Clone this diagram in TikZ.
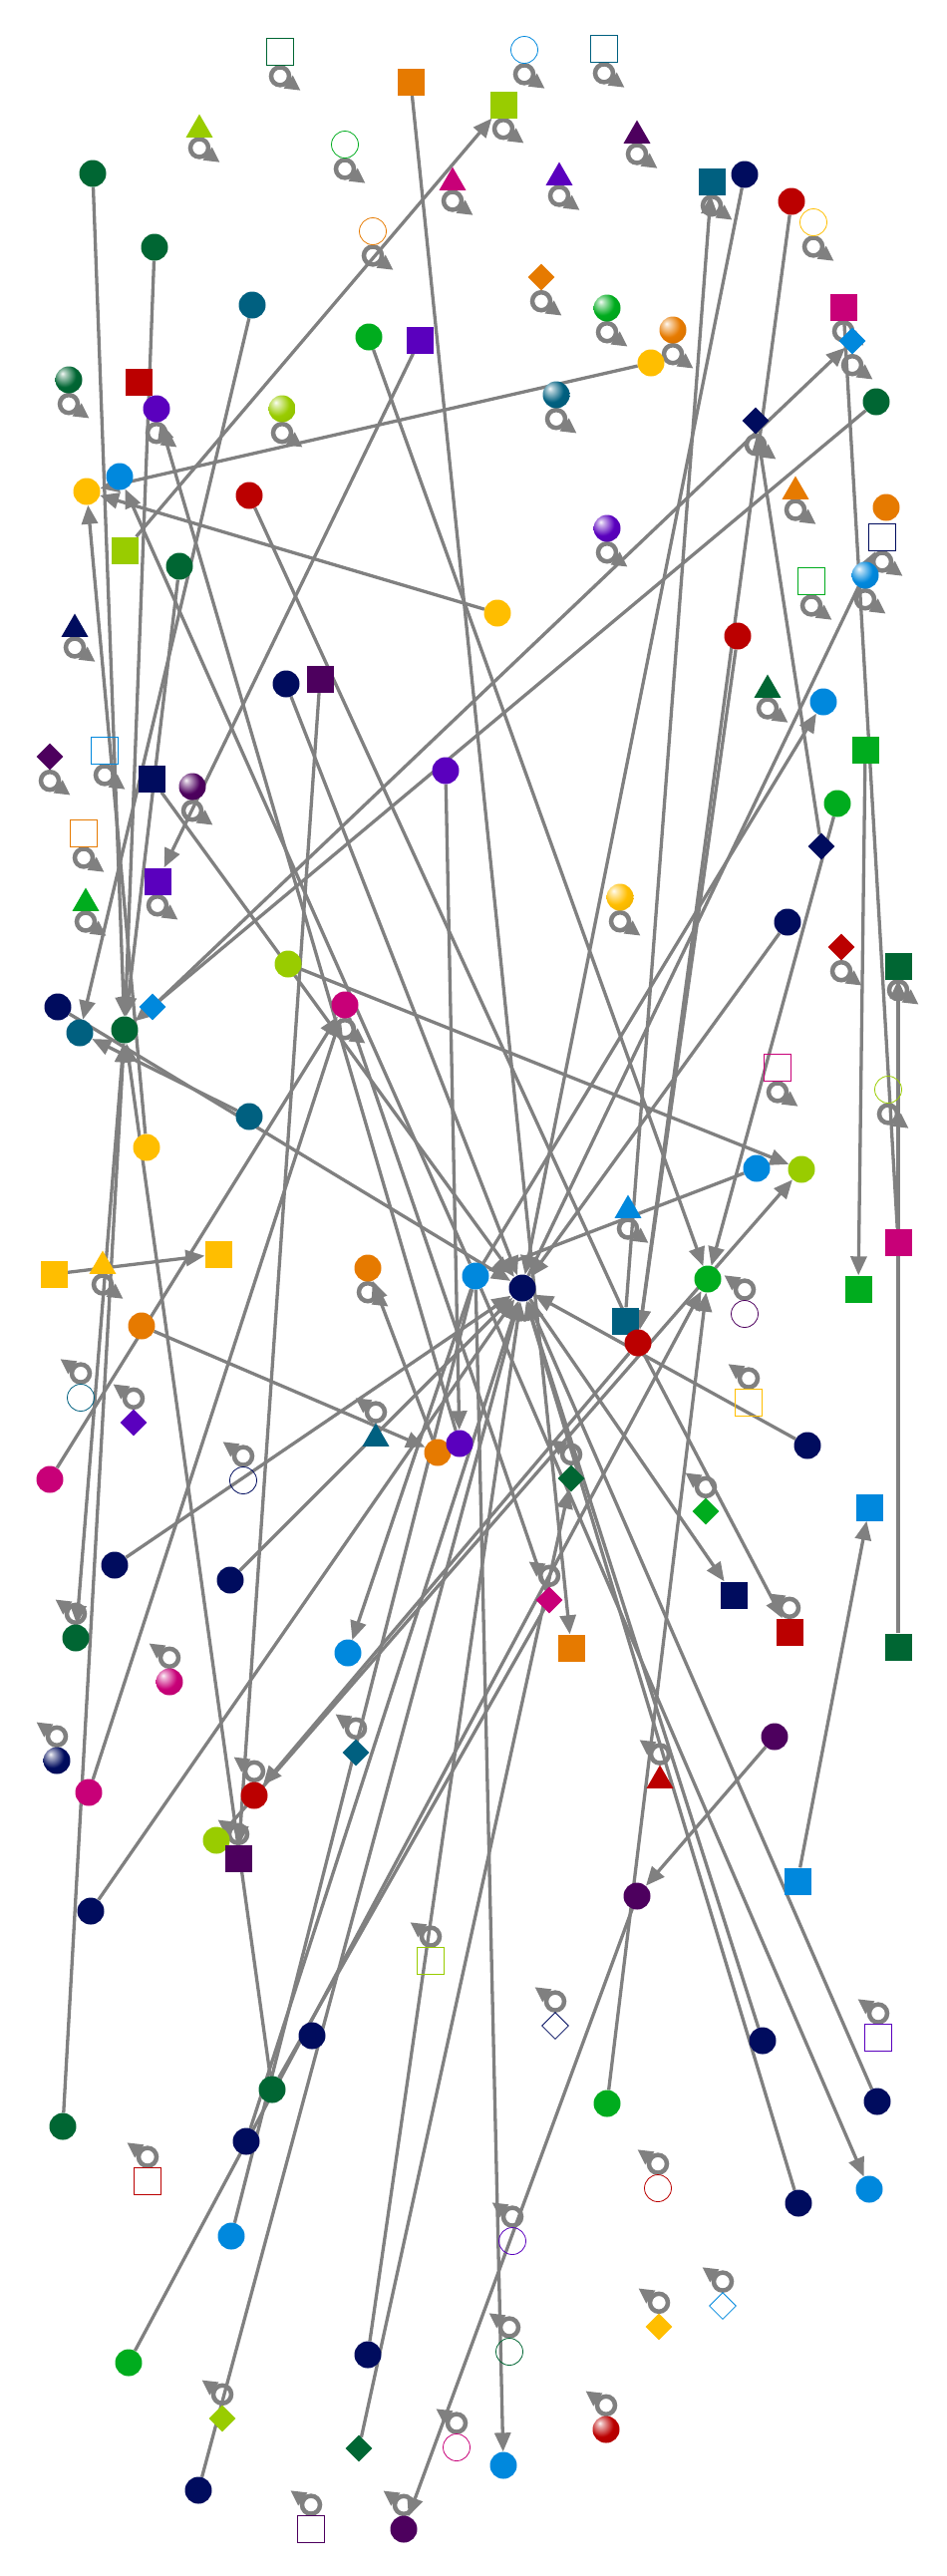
\documentclass[tikz,border=0pt]{standalone}
\usetikzlibrary{shapes.geometric, arrows.meta, backgrounds}

\definecolor{cnavy}{RGB}{0,12,94}
\definecolor{cdkgreen}{RGB}{0,102,51}
\definecolor{cteal}{RGB}{0,96,128}
\definecolor{cblue}{RGB}{0,136,221}
\definecolor{cgreen}{RGB}{0,172,30}
\definecolor{clime}{RGB}{153,204,0}
\definecolor{cyellow}{RGB}{255,190,0}
\definecolor{corange}{RGB}{230,122,0}
\definecolor{cred}{RGB}{187,0,0}
\definecolor{cmagenta}{RGB}{200,0,120}
\definecolor{cpurple}{RGB}{90,0,190}
\definecolor{cdkpurple}{RGB}{77,0,94}
\definecolor{cline}{RGB}{128,128,128}

% lighter ball shading than the built in one
\makeatletter
\pgfdeclareradialshading[tikz@ball]{gloss}{\pgfqpoint{-12bp}{12bp}}{%
  color(0bp)=(tikz@ball!4!white); color(5bp)=(tikz@ball!30!white);
  color(22bp)=(tikz@ball); color(50bp)=(tikz@ball!88!black);
  color(75bp)=(tikz@ball!75!black)}
\makeatother

% self loops, under or over the node
\newcommand{\loopbelow}[1]{%
  \draw[loopring] ([yshift=-10.5pt]#1.south) circle[radius=9pt];
  \draw[looptip] ([yshift=-10.5pt]#1.south) ++(-35:9pt) -- ++(-35:16pt);}
\newcommand{\loopabove}[1]{%
  \draw[loopring] ([yshift=10.5pt]#1.north) circle[radius=9pt];
  \draw[looptip] ([yshift=10.5pt]#1.north) ++(145:9pt) -- ++(145:16pt);}

\begin{document}
\begin{tikzpicture}[
    x=1pt, y=-1pt,
    dot/.style={circle, fill=#1, minimum size=27pt, inner sep=0pt},
    box/.style={rectangle, fill=#1, minimum size=27pt, inner sep=0pt},
    tri/.style={regular polygon, regular polygon sides=3, fill=#1, minimum size=31pt, inner sep=0pt},
    dia/.style={diamond, fill=#1, minimum size=27pt, inner sep=0pt},
    bball/.style={circle, shade, ball color=#1, shading=gloss, minimum size=27pt, inner sep=0pt},
    odot/.style={circle, draw=#1, line width=0.8pt, minimum size=27pt, inner sep=0pt},
    obox/.style={rectangle, draw=#1, line width=0.8pt, minimum size=27pt, inner sep=0pt},
    odia/.style={diamond, draw=#1, line width=0.8pt, minimum size=27pt, inner sep=0pt},
    link/.style={draw=cline, line width=3.3pt},
    arr/.style={link, -{Triangle[length=19pt, width=16pt]}},
    loopring/.style={draw=cline, line width=4.5pt},
    looptip/.style={draw=cline, line width=3.3pt, -{Triangle[length=15pt, width=15pt]}}
]
    \useasboundingbox (0,0) rectangle (950,2584);

    % Navy
    \node[dot=cnavy] (hub) at (524,1292) {};
    \node[dot=cnavy] (nvA) at (747,175) {};
    \node[dia=cnavy] (nvDia) at (758,422) {};
    \node[tri=cnavy] (nvTri) at (75,631) {};
    \node[dot=cnavy] (nvB) at (287,686) {};
    \node[obox=cnavy] (nvObox) at (885,539) {};
    \node[box=cnavy] (nvSq) at (152,781) {};
    \node[dot=cnavy] (nvC) at (58,1010) {};
    \node[dia=cnavy] (nvDib) at (824,849) {};
    \node[dot=cnavy] (nvD) at (790,925) {};
    \node[odot=cnavy] (nvOdot) at (244,1485) {};
    \node[dot=cnavy] (nvE) at (810,1450) {};
    \node[dot=cnavy] (nvF) at (115,1570) {};
    \node[dot=cnavy] (nvG) at (231,1585) {};
    \node[box=cnavy] (nvSqb) at (736,1600) {};
    \node[bball=cnavy] (nvBall) at (57,1766) {};
    \node[dot=cnavy] (nvH) at (91,1917) {};
    \node[odia=cnavy] (nvOdia) at (557,2032) {};
    \node[dot=cnavy] (nvI) at (313,2042) {};
    \node[dot=cnavy] (nvJ) at (247,2148) {};
    \node[dot=cnavy] (nvK) at (765,2047) {};
    \node[dot=cnavy] (nvL) at (880,2108) {};
    \node[dot=cnavy] (nvM) at (369,2362) {};
    \node[dot=cnavy] (nvN) at (199,2498) {};
    \node[dot=cnavy] (nvO) at (801,2210) {};

    % Teal
    \node[obox=cteal] (tlObox) at (606,49) {};
    \node[box=cteal] (tlSq) at (714,182) {};
    \node[dot=cteal] (tlA) at (253,306) {};
    \node[bball=cteal] (tlBall) at (558,396) {};
    \node[dot=cteal] (tlHub) at (80,1036) {};
    \node[dot=cteal] (tlB) at (250,1120) {};
    \node[odot=cteal] (tlOdot) at (81,1402) {};
    \node[tri=cteal] (tlTri) at (377,1443) {};
    \node[box=cteal] (tlSqb) at (627,1325) {};
    \node[dia=cteal] (tlDia) at (357,1758) {};

    % Dark green
    \node[obox=cdkgreen] (dgObox) at (281,52) {};
    \node[dot=cdkgreen] (dgA) at (93,174) {};
    \node[dot=cdkgreen] (dgB) at (155,248) {};
    \node[bball=cdkgreen] (dgBall) at (69,381) {};
    \node[dot=cdkgreen] (dgC) at (180,568) {};
    \node[dot=cdkgreen] (dgD) at (879,403) {};
    \node[tri=cdkgreen] (dgTri) at (770,692) {};
    \node[box=cdkgreen] (dgSq) at (901,969) {};
    \node[dot=cdkgreen] (dgHub) at (125,1033) {};
    \node[dia=cdkgreen] (dgDia) at (573,1483) {};
    \node[box=cdkgreen] (dgSqb) at (901,1652) {};
    \node[dot=cdkgreen] (dgE) at (76,1643) {};
    \node[dot=cdkgreen] (dgF) at (273,2096) {};
    \node[dot=cdkgreen] (dgG) at (63,2133) {};
    \node[odot=cdkgreen] (dgOdot) at (511,2359) {};
    \node[dia=cdkgreen] (dgDib) at (360,2456) {};

    % Blue
    \node[odot=cblue] (blOdot) at (526,50) {};
    \node[dia=cblue] (blDia) at (855,342) {};
    \node[dot=cblue] (blA) at (120,478) {};
    \node[bball=cblue] (blBall) at (868,577) {};
    \node[dot=cblue] (blB) at (826,704) {};
    \node[obox=cblue] (blObox) at (105,753) {};
    \node[dia=cblue] (blDib) at (153,1010) {};
    \node[dot=cblue] (blC) at (759,1172) {};
    \node[dot=cblue] (blHub) at (477,1280) {};
    \node[tri=cblue] (blTri) at (630,1214) {};
    \node[box=cblue] (blSq) at (872,1512) {};
    \node[dot=cblue] (blD) at (349,1658) {};
    \node[box=cblue] (blSqb) at (800,1887) {};
    \node[dot=cblue] (blE) at (232,2243) {};
    \node[dot=cblue] (blF) at (872,2196) {};
    \node[odia=cblue] (blOdia) at (725,2313) {};
    \node[dot=cblue] (blG) at (505,2473) {};

    % Yellow
    \node[odot=cyellow] (ylOdot) at (816,223) {};
    \node[dot=cyellow] (ylA) at (653,364) {};
    \node[dot=cyellow] (ylHub) at (87,493) {};
    \node[dot=cyellow] (ylB) at (499,615) {};
    \node[bball=cyellow] (ylBall) at (622,900) {};
    \node[dot=cyellow] (ylC) at (147,1151) {};
    \node[box=cyellow] (ylSq) at (54,1278) {};
    \node[tri=cyellow] (ylTri) at (103,1270) {};
    \node[box=cyellow] (ylSqb) at (219,1258) {};
    \node[obox=cyellow] (ylObox) at (751,1407) {};
    \node[dia=cyellow] (ylDia) at (661,2334) {};

    % Orange
    \node[box=corange] (orSq) at (412,82) {};
    \node[odot=corange] (orOdot) at (374,232) {};
    \node[dia=corange] (orDia) at (543,278) {};
    \node[bball=corange] (orBall) at (675,331) {};
    \node[tri=corange] (orTri) at (798,493) {};
    \node[dot=corange] (orA) at (889,509) {};
    \node[obox=corange] (orObox) at (84,836) {};
    \node[dot=corange] (orB) at (369,1272) {};
    \node[dot=corange] (orC) at (142,1330) {};
    \node[dot=corange] (orHub) at (439,1457) {};
    \node[box=corange] (orSqb) at (573,1653) {};

    % Red
    \node[box=cred] (rdSq) at (139,383) {};
    \node[dot=cred] (rdA) at (794,202) {};
    \node[dot=cred] (rdB) at (250,497) {};
    \node[dot=cred] (rdC) at (740,638) {};
    \node[dia=cred] (rdDia) at (844,950) {};
    \node[dot=cred] (rdHub) at (640,1347) {};
    \node[box=cred] (rdSqb) at (792,1637) {};
    \node[tri=cred] (rdTri) at (662,1786) {};
    \node[dot=cred] (rdD) at (255,1801) {};
    \node[obox=cred] (rdObox) at (148,2188) {};
    \node[odot=cred] (rdOdot) at (660,2195) {};
    \node[bball=cred] (rdBall) at (608,2437) {};

    % Magenta
    \node[tri=cmagenta] (mgTri) at (454,183) {};
    \node[box=cmagenta] (mgSq) at (846,308) {};
    \node[dot=cmagenta] (mgHub) at (346,1008) {};
    \node[obox=cmagenta] (mgObox) at (780,1071) {};
    \node[box=cmagenta] (mgSqb) at (901,1246) {};
    \node[dot=cmagenta] (mgA) at (50,1484) {};
    \node[dia=cmagenta] (mgDia) at (551,1605) {};
    \node[bball=cmagenta] (mgBall) at (170,1687) {};
    \node[dot=cmagenta] (mgB) at (89,1798) {};
    \node[odot=cmagenta] (mgOdot) at (458,2455) {};

    % Green
    \node[odot=cgreen] (gnOdot) at (346,145) {};
    \node[dot=cgreen] (gnA) at (370,338) {};
    \node[bball=cgreen] (gnBall) at (609,309) {};
    \node[obox=cgreen] (gnObox) at (814,583) {};
    \node[box=cgreen] (gnSq) at (868,752) {};
    \node[dot=cgreen] (gnB) at (840,806) {};
    \node[tri=cgreen] (gnTri) at (86,906) {};
    \node[dot=cgreen] (gnHub) at (710,1283) {};
    \node[box=cgreen] (gnSqb) at (861,1293) {};
    \node[dia=cgreen] (gnDia) at (708,1516) {};
    \node[dot=cgreen] (gnC) at (609,2110) {};
    \node[dot=cgreen] (gnD) at (129,2370) {};

    % Lime
    \node[tri=clime] (lmTri) at (200,130) {};
    \node[box=clime] (lmSq) at (505,105) {};
    \node[bball=clime] (lmBall) at (283,410) {};
    \node[box=clime] (lmSqb) at (125,552) {};
    \node[dot=clime] (lmA) at (289,967) {};
    \node[dot=clime] (lmHub) at (804,1173) {};
    \node[odot=clime] (lmOdot) at (891,1093) {};
    \node[dot=clime] (lmB) at (217,1846) {};
    \node[obox=clime] (lmObox) at (432,1967) {};
    \node[dia=clime] (lmDia) at (223,2426) {};

    % Purple
    \node[tri=cpurple] (puTri) at (561,178) {};
    \node[box=cpurple] (puSq) at (421,341) {};
    \node[dot=cpurple] (puA) at (157,410) {};
    \node[bball=cpurple] (puBall) at (609,530) {};
    \node[dot=cpurple] (puB) at (447,773) {};
    \node[box=cpurple] (puSqb) at (158,884) {};
    \node[dia=cpurple] (puDia) at (134,1427) {};
    \node[dot=cpurple] (puHub) at (461,1448) {};
    \node[obox=cpurple] (puObox) at (881,2044) {};
    \node[odot=cpurple] (puOdot) at (514,2248) {};

    % Dark purple
    \node[tri=cdkpurple] (dpTri) at (639,136) {};
    \node[box=cdkpurple] (dpSq) at (321,681) {};
    \node[dia=cdkpurple] (dpDia) at (50,759) {};
    \node[bball=cdkpurple] (dpBall) at (193,789) {};
    \node[odot=cdkpurple] (dpOdot) at (747,1318) {};
    \node[dot=cdkpurple] (dpA) at (777,1742) {};
    \node[dot=cdkpurple] (dpB) at (639,1902) {};
    \node[box=cdkpurple] (dpSqb) at (239,1864) {};
    \node[obox=cdkpurple] (dpObox) at (312,2537) {};
    \node[dot=cdkpurple] (dpC) at (405,2537) {};

    \begin{scope}[on background layer]
    % Edges into the navy hub
    \draw[arr] (nvA) -- (hub);
    \draw[arr] (nvB) -- (hub);
    \draw[arr] (nvSq) -- (hub);
    \draw[arr] (nvC) -- (hub);
    \draw[arr] (nvD) -- (hub);
    \draw[arr] (nvE) -- (hub);
    \draw[arr] (nvF) -- (hub);
    \draw[arr] (nvG) -- (hub);
    \draw[arr] (nvH) -- (hub);
    \draw[arr] (nvJ) -- (hub);
    \draw[arr] (nvK) -- (hub);
    \draw[arr] (nvL) -- (hub);
    \draw[arr] (nvM) -- (hub);
    \draw[arr] (nvN) -- (hub);
    \draw[arr] (nvO) -- (hub);
    \draw[arr] (hub) -- (nvObox);
    \draw[arr] (hub) -- (nvSqb);
    \draw[arr] (nvDib) -- (nvDia);

    % Teal
    \draw[arr] (tlA) -- (tlHub);
    \draw[arr] (tlB) -- (tlHub);
    \draw[arr] (tlSqb) -- (tlSq);

    % Dark green
    \draw[arr] (dgA) -- (dgHub);
    \draw[arr] (dgB) -- (dgHub);
    \draw[arr] (dgC) -- (dgHub);
    \draw[arr] (dgD) -- (dgHub);
    \draw[arr] (dgG) -- (dgHub);
    \draw[arr] (dgF) -- (dgHub);
    \draw[arr] (dgHub) -- (dgE);
    \draw[arr] (dgDib) -- (dgDia);
    \draw[arr] (dgSqb) -- (dgSq);
    \draw[link] (dgF) -- (mgDia);

    % Blue
    \draw[arr] (blDib) -- (blDia);
    \draw[arr] (blSqb) -- (blSq);
    \draw[arr] (blC) -- (blHub);
    \draw[arr] (blHub) -- (blA);
    \draw[arr] (blHub) -- (blB);
    \draw[arr] (blHub) -- (blD);
    \draw[arr] (blHub) -- (blF);
    \draw[arr] (blHub) -- (blG);
    \draw[link] (blE) -- (blHub);

    % Yellow
    \draw[arr] (ylA) -- (ylHub);
    \draw[arr] (ylB) -- (ylHub);
    \draw[arr] (ylC) -- (ylHub);
    \draw[arr] (ylSq) -- (ylSqb);

    % Orange
    \draw[arr] (orSq) -- (orSqb);
    \draw[arr] (orC) -- (orHub);
    \draw[arr] (orHub) -- (orB);

    % Red
    \draw[arr] (rdA) -- (rdHub);
    \draw[arr] (rdB) -- (rdHub);
    \draw[arr] (rdC) -- (rdHub);
    \draw[arr] (rdHub) -- (rdSqb);
    \draw[arr] (rdHub) -- (rdD);

    % Magenta
    \draw[arr] (mgA) -- (mgHub);
    \draw[arr] (mgB) -- (mgHub);
    \draw[link] (mgDia) -- (mgHub);
    \draw[link] (mgSqb) -- (mgSq);

    % Green
    \draw[arr] (gnA) -- (gnHub);
    \draw[arr] (gnB) -- (gnHub);
    \draw[arr] (gnC) -- (gnHub);
    \draw[arr] (gnD) -- (gnHub);
    \draw[arr] (gnSq) -- (gnSqb);

    % Lime
    \draw[arr] (lmSqb) -- (lmSq);
    \draw[arr] (lmA) -- (lmHub);
    \draw[arr] (lmB) -- (lmHub);

    % Purple
    \draw[arr] (puSq) -- (puSqb);
    \draw[arr] (puB) -- (puHub);
    \draw[arr] (puHub) -- (puA);

    % Dark purple
    \draw[arr] (dpSq) -- (dpSqb);
    \draw[arr] (dpA) -- (dpB);
    \draw[arr] (dpB) -- (dpC);

    % Self loops, upper half
    \loopbelow{dgObox} \loopbelow{lmTri} \loopbelow{gnOdot} \loopbelow{mgTri}
    \loopbelow{orOdot} \loopbelow{dgBall} \loopbelow{puA} \loopbelow{lmBall}
    \loopbelow{blOdot} \loopbelow{tlObox} \loopbelow{lmSq} \loopbelow{dpTri}
    \loopbelow{puTri} \loopbelow{tlSq} \loopbelow{ylOdot} \loopbelow{orDia}
    \loopbelow{gnBall} \loopbelow{orBall} \loopbelow{tlBall} \loopbelow{mgSq}
    \loopbelow{blDia} \loopbelow{nvDia} \loopbelow{puBall} \loopbelow{orTri}
    \loopbelow{nvObox} \loopbelow{blBall} \loopbelow{gnObox} \loopbelow{dgTri}
    \loopbelow{nvTri} \loopbelow{dpDia} \loopbelow{blObox} \loopbelow{dpBall}
    \loopbelow{orObox} \loopbelow{puSqb} \loopbelow{gnTri} \loopbelow{ylBall}
    \loopbelow{rdDia} \loopbelow{dgSq} \loopbelow{mgObox} \loopbelow{lmOdot}
    \loopbelow{mgHub} \loopbelow{blTri} \loopbelow{ylTri} \loopbelow{orB}

    % Self loops, lower half
    \loopabove{dpOdot} \loopabove{tlOdot} \loopabove{puDia} \loopabove{nvOdot}
    \loopabove{tlTri} \loopabove{ylObox} \loopabove{dgDia} \loopabove{mgDia}
    \loopabove{gnDia} \loopabove{rdSqb} \loopabove{nvBall} \loopabove{mgBall}
    \loopabove{dgE} \loopabove{rdD} \loopabove{dpSqb} \loopabove{tlDia}
    \loopabove{lmObox} \loopabove{rdTri} \loopabove{nvOdia} \loopabove{puObox}
    \loopabove{rdObox} \loopabove{lmDia} \loopabove{mgOdot} \loopabove{dpObox}
    \loopabove{dpC} \loopabove{rdOdot} \loopabove{puOdot} \loopabove{dgOdot}
    \loopabove{ylDia} \loopabove{blOdia} \loopabove{rdBall}
    \end{scope}

\end{tikzpicture}
\end{document}
